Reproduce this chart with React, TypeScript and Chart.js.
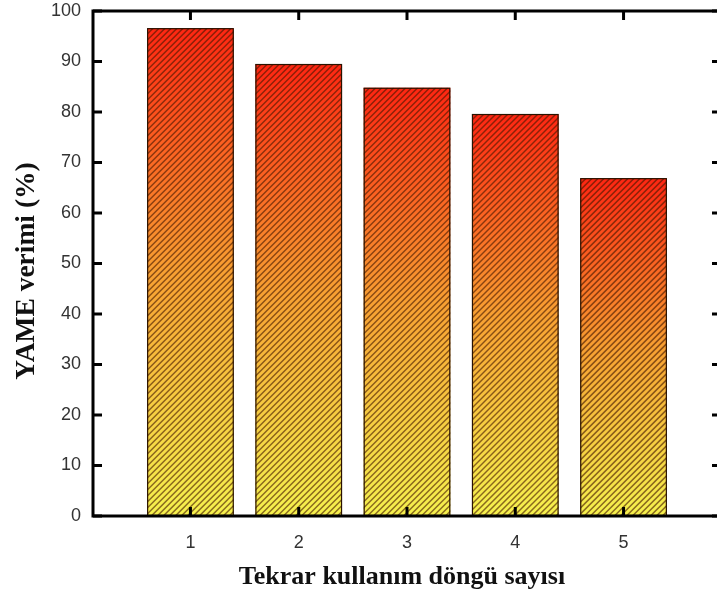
import React, { useEffect, useRef } from "react";
import { Chart, registerables } from "chart.js";

Chart.register(...registerables);

const cycles = [1, 2, 3, 4, 5];
const yieldValues = [96.6, 89.5, 84.8, 79.6, 66.9];
const yTickValues = [0, 10, 20, 30, 40, 50, 60, 70, 80, 90, 100];
const xTitle = "Tekrar kullanım döngü sayısı";
const yTitle = "YAME verimi (%)";

export default function App() {
  const ref = useRef<HTMLCanvasElement>(null);

  useEffect(() => {
    const canvas = ref.current;
    if (!canvas) return;

    const hatchPlugin = {
      id: "hatch",
      afterDatasetsDraw(chart: any) {
        const ctx = chart.ctx;
        const meta = chart.getDatasetMeta(0);
        meta.data.forEach((bar: any) => {
          const { x, y, base, width } = bar.getProps(["x", "y", "base", "width"], true);
          const left = x - width / 2;
          const right = x + width / 2;
          const h = base - y;
          ctx.save();
          ctx.beginPath();
          ctx.rect(left, y, width, h);
          ctx.clip();
          ctx.strokeStyle = "rgba(70,25,0,0.62)";
          ctx.lineWidth = 1.5;
          for (let s = left - h; s < right + 6; s += 6) {
            ctx.beginPath();
            ctx.moveTo(s, base);
            ctx.lineTo(s + h, y);
            ctx.stroke();
          }
          ctx.restore();
          ctx.save();
          ctx.strokeStyle = "#2a1200";
          ctx.lineWidth = 1.2;
          ctx.strokeRect(left + 0.5, y + 0.5, width - 1, h - 1);
          ctx.restore();
        });
      },
    };

    const framePlugin = {
      id: "frame",
      afterDraw(chart: any) {
        const ctx = chart.ctx;
        const { left, right, top, bottom } = chart.chartArea;
        const xs = chart.scales.x;
        const ys = chart.scales.y;
        ctx.save();
        ctx.strokeStyle = "#000";
        ctx.lineWidth = 3;
        ctx.strokeRect(left, top, right - left, bottom - top);
        yTickValues.forEach((v) => {
          const py = ys.getPixelForValue(v);
          ctx.beginPath();
          ctx.moveTo(left, py);
          ctx.lineTo(left + 9, py);
          ctx.stroke();
          ctx.beginPath();
          ctx.moveTo(right, py);
          ctx.lineTo(right - 9, py);
          ctx.stroke();
        });
        cycles.forEach((c) => {
          const px = xs.getPixelForValue(c);
          ctx.beginPath();
          ctx.moveTo(px, top);
          ctx.lineTo(px, top + 9);
          ctx.stroke();
          ctx.beginPath();
          ctx.moveTo(px, bottom);
          ctx.lineTo(px, bottom - 9);
          ctx.stroke();
        });
        ctx.fillStyle = "#111";
        ctx.textAlign = "center";
        ctx.textBaseline = "middle";
        ctx.font = "bold 26px 'Liberation Serif', 'Times New Roman', serif";
        ctx.fillText(xTitle, 402, 577);
        ctx.translate(27, 271);
        ctx.rotate(-Math.PI / 2);
        ctx.font = "bold 27.5px 'Liberation Serif', 'Times New Roman', serif";
        ctx.fillText(yTitle, 0, 0);
        ctx.restore();
      },
    };

    const chart = new Chart(canvas, {
      type: "bar",
      data: {
        datasets: [
          {
            data: cycles.map((c, i) => ({ x: c, y: yieldValues[i] })),
            backgroundColor: (c: any) => {
              const ch = c.chart;
              if (!ch.chartArea || c.dataIndex === undefined) return "#f09030";
              const ys = ch.scales.y;
              const top = ys.getPixelForValue(yieldValues[c.dataIndex]);
              const bottom = ys.getPixelForValue(0);
              const g = ch.ctx.createLinearGradient(0, bottom, 0, top);
              g.addColorStop(0, "#f6f24e");
              g.addColorStop(0.5, "#f8a032");
              g.addColorStop(1, "#ff2612");
              return g;
            },
            borderWidth: 0,
            barPercentage: 0.8,
            categoryPercentage: 1,
          },
        ],
      },
      options: {
        animation: false,
        responsive: false,
        devicePixelRatio: 1,
        layout: { padding: { top: 11, right: 19, left: 0, bottom: 0 } },
        plugins: {
          legend: { display: false },
          tooltip: { enabled: false },
          title: { display: false },
        },
        scales: {
          x: {
            type: "linear",
            offset: false,
            min: 0.1,
            max: 5.9,
            afterBuildTicks: (scale: any) => {
              scale.ticks = cycles.map((v) => ({ value: v }));
            },
            afterFit: (scale: any) => {
              scale.height = 84;
              scale.paddingLeft = 0;
              scale.paddingRight = 0;
              scale.paddingTop = 0;
              scale.paddingBottom = 0;
            },
            grid: { display: false, drawTicks: false, offset: false },
            border: { display: false },
            ticks: {
              padding: 16,
              color: "#333",
              font: { family: "'Liberation Sans', Arial, sans-serif", size: 18 },
              callback: (v: any) => String(v),
            },
          },
          y: {
            min: 0,
            max: 100,
            afterBuildTicks: (scale: any) => {
              scale.ticks = yTickValues.map((v) => ({ value: v }));
            },
            afterFit: (scale: any) => {
              scale.width = 93;
              scale.paddingLeft = 0;
              scale.paddingRight = 0;
              scale.paddingTop = 0;
              scale.paddingBottom = 0;
            },
            grid: { display: false, drawTicks: false },
            border: { display: false },
            ticks: {
              padding: 12,
              color: "#333",
              font: { family: "'Liberation Sans', Arial, sans-serif", size: 18 },
            },
          },
        },
      },
      plugins: [hatchPlugin, framePlugin],
    });

    return () => chart.destroy();
  }, []);

  return (
    <div
      style={{
        position: "fixed",
        left: 0,
        top: 0,
        width: 717,
        height: 600,
        overflow: "hidden",
        background: "#fff",
      }}
    >
      <canvas ref={ref} width={740} height={600} style={{ display: "block", width: 740, height: 600 }} />
    </div>
  );
}
